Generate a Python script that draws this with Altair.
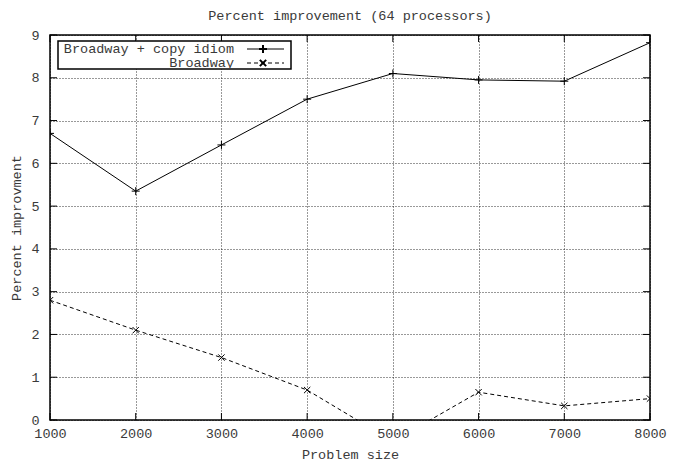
import altair as alt
import pandas as pd

sizes = [1000, 2000, 3000, 4000, 5000, 6000, 7000, 8000]
copy_idiom = [6.7, 5.35, 6.43, 7.5, 8.1, 7.95, 7.92, 8.82]
broadway = [2.8, 2.1, 1.46, 0.7, -0.5, 0.65, 0.33, 0.5]
series_names = ["Broadway + copy idiom", "Broadway"]
x_ticks = [1000, 2000, 3000, 4000, 5000, 6000, 7000, 8000]
y_ticks = [0, 1, 2, 3, 4, 5, 6, 7, 8, 9]

W, H = 600, 385
FONT = "Liberation Mono"
FS = 13.5
TXT = "#3a3a3a"

df = pd.DataFrame({
    "size": sizes * 2,
    "value": copy_idiom + broadway,
    "series": [series_names[0]] * len(sizes) + [series_names[1]] * len(sizes),
})

PLUS = "M-1,0L1,0M0,-1L0,1"
CROSS = "M-1,-1L1,1M-1,1L1,-1"

xs = alt.Scale(domain=[1000, 8000], nice=False, zero=False)
ys = alt.Scale(domain=[0, 9], nice=False)

common_axis = dict(ticks=False, domain=False, labelFlush=False, labelOverlap=False,
                   gridDash=[1, 2], gridColor="#000", gridOpacity=0.8,
                   labelFont=FONT, titleFont=FONT, labelFontSize=FS, titleFontSize=FS,
                   labelColor=TXT, titleColor=TXT, titleFontWeight="normal")

xenc = alt.X("size:Q", scale=xs, title="Problem size",
             axis=alt.Axis(values=x_ticks, format="d", labelPadding=6, titlePadding=8,
                           **common_axis))
yenc = alt.Y("value:Q", scale=ys, title="Percent improvment",
             axis=alt.Axis(values=y_ticks, labelPadding=11, titlePadding=7,
                           **common_axis))

base = alt.Chart(df)

line1 = base.transform_filter(alt.datum.series == series_names[0]).mark_line(
    color="black", strokeWidth=1, clip=True).encode(x=xenc, y=yenc)
pts1 = base.transform_filter(alt.datum.series == series_names[0]).mark_point(
    shape=PLUS, size=64, filled=False, color="black", strokeWidth=1, clip=True, opacity=1
).encode(x="size:Q", y="value:Q")
line2 = base.transform_filter(alt.datum.series == series_names[1]).mark_line(
    color="black", strokeWidth=1, strokeDash=[4, 3], clip=True).encode(x="size:Q", y="value:Q")
pts2 = base.transform_filter(alt.datum.series == series_names[1]).mark_point(
    shape=CROSS, size=40, filled=False, color="black", strokeWidth=1, clip=True, opacity=1
).encode(x="size:Q", y="value:Q")

TL = 7
xt = pd.DataFrame({"t": x_ticks})
yt = pd.DataFrame({"t": y_ticks})
xtick_b = alt.Chart(xt).mark_rule(color="black").encode(
    x=alt.X("t:Q", scale=xs), y=alt.value(H), y2=alt.value(H - TL))
xtick_t = alt.Chart(xt).mark_rule(color="black").encode(
    x=alt.X("t:Q", scale=xs), y=alt.value(0), y2=alt.value(TL))
ytick_l = alt.Chart(yt).mark_rule(color="black").encode(
    y=alt.Y("t:Q", scale=ys), x=alt.value(0), x2=alt.value(TL))
ytick_r = alt.Chart(yt).mark_rule(color="black").encode(
    y=alt.Y("t:Q", scale=ys), x=alt.value(W), x2=alt.value(W - TL))

# legend (drawn as a box inside the plot, gnuplot style)
one = pd.DataFrame({"a": [0]})
box = alt.Chart(one).mark_rect(
    fill="white", stroke="black", strokeWidth=1.5).encode(
    x=alt.value(8), x2=alt.value(241), y=alt.value(6), y2=alt.value(34))
leg_text = alt.Chart(pd.DataFrame({"name": [series_names[0]]})).mark_text(
    align="right", baseline="middle", font=FONT, fontSize=FS, color=TXT).encode(
    text="name:N", x=alt.value(184), y=alt.value(14))
leg_text2 = alt.Chart(pd.DataFrame({"name": [series_names[1]]})).mark_text(
    align="right", baseline="middle", font=FONT, fontSize=FS, color=TXT).encode(
    text="name:N", x=alt.value(184), y=alt.value(28))
leg_l1 = alt.Chart(one).mark_rule(color="black").encode(
    x=alt.value(197), x2=alt.value(234), y=alt.value(14))
leg_l2 = alt.Chart(one).mark_rule(color="black", strokeDash=[4, 3]).encode(
    x=alt.value(197), x2=alt.value(234), y=alt.value(28))
leg_p1 = alt.Chart(one).mark_point(
    shape=PLUS, size=64, filled=False, color="black", opacity=1).encode(
    x=alt.value(213), y=alt.value(14))
leg_p2 = alt.Chart(one).mark_point(
    shape=CROSS, size=40, filled=False, color="black", opacity=1).encode(
    x=alt.value(213), y=alt.value(28))

chart = alt.layer(
    line1, pts1, line2, pts2, xtick_b, xtick_t, ytick_l, ytick_r,
    box, leg_text, leg_text2, leg_l1, leg_l2, leg_p1, leg_p2
).properties(
    width=W, height=H,
    background="white",
    title=alt.TitleParams("Percent improvement (64 processors)", font=FONT, fontSize=FS,
                          fontWeight="normal", color=TXT, offset=6, anchor="middle"),
    autosize=alt.AutoSizeParams(type="none"),
    padding={"left": 42, "top": 27, "right": 19, "bottom": 43},
).configure_view(
    stroke="black", strokeWidth=1.5
)

chart.save("out.html", embed_options={"renderer": "svg", "actions": False})
